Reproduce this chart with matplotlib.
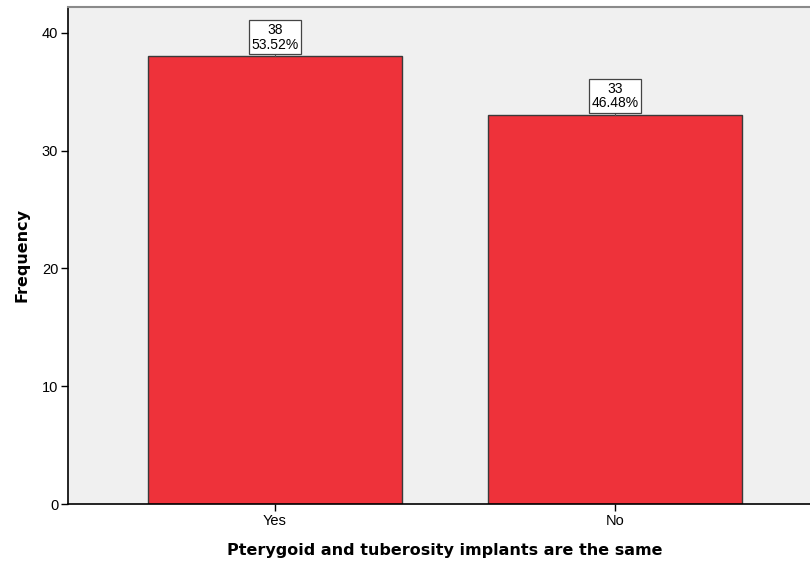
import matplotlib
matplotlib.use("Agg")
import matplotlib.pyplot as plt

categories = ["Yes", "No"]
counts = [38, 33]
percents = [53.52, 46.48]
yticks = [0, 10, 20, 30, 40]

plt.rcParams['font.family'] = ['Liberation Sans', 'DejaVu Sans']

fig = plt.figure(figsize=(8.10, 5.63), dpi=100)
ax = fig.add_axes([68/810, 59/563, 754/810, 497/563])
ax.set_facecolor('#F0F0F0')

x = list(range(len(categories)))
ax.bar(x, counts, width=0.747, color='#EE323A', edgecolor='#3a3a3a', linewidth=1.0, zorder=2)

ax.set_xlim(-0.609, 1.609)
ax.set_ylim(0, 42.2)
ax.set_xticks(x)
ax.set_xticklabels(categories, fontsize=10.5)
ax.set_yticks(yticks)
ax.set_yticklabels([str(t) for t in yticks], fontsize=10.5)
ax.tick_params(axis='both', direction='out', length=5, width=1, color='black', pad=2)

for side in ['left', 'bottom']:
    ax.spines[side].set_color('black')
    ax.spines[side].set_linewidth(1.2)
ax.spines['top'].set_color('#8a8a8a')
ax.spines['top'].set_linewidth(1.5)
ax.spines['right'].set_visible(False)

for xi, c, p in zip(x, counts, percents):
    ax.plot([xi, xi], [c, c + 0.3], color='#555555', lw=0.8, zorder=3)
    ax.annotate(f"{c}\n{p:.2f}%", xy=(xi, c), xytext=(0, 3.5), textcoords='offset points',
                ha='center', va='bottom', fontsize=10, linespacing=1.05,
                bbox=dict(boxstyle='square,pad=0.2', fc='white', ec='#444444', lw=0.9),
                zorder=4)

label_font = dict(family='DejaVu Sans', fontsize=11.5, fontweight='bold')
ax.set_ylabel("Frequency", labelpad=9, **label_font)
ax.set_xlabel("Pterygoid and tuberosity implants are the same", labelpad=11, **label_font)

fig.savefig("out.png", dpi=100, facecolor='white')
